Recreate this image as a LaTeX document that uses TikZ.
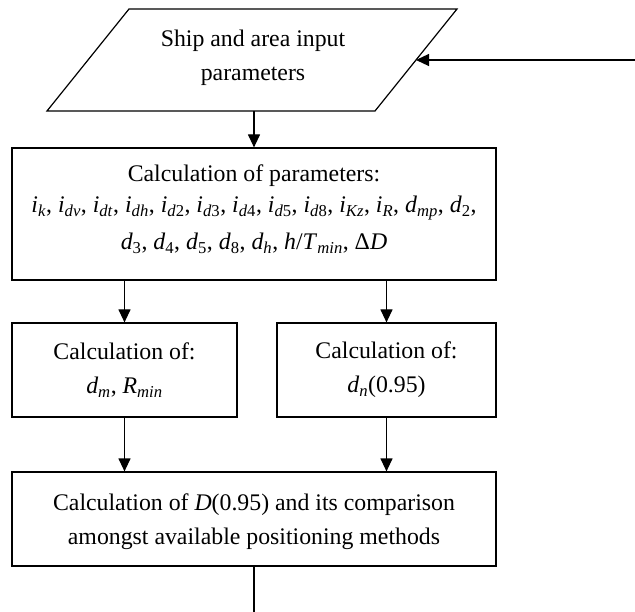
\documentclass[tikz,border=0pt]{standalone}
\usepackage{fontspec}
\setmainfont{Liberation Serif}
\usetikzlibrary{arrows.meta}
\newcommand\vr[2]{\textit{#1}\textsubscript{#2}}
\begin{document}
\begin{tikzpicture}[x=1pt,y=-1pt,line width=1.2pt,
  >={Triangle[length=13pt,width=12pt]},
  txt/.style={align=center,font=\fontsize{23.8}{34}\selectfont,inner sep=0pt},
  boxn/.style={draw,inner sep=0pt,minimum height=#1},
  boxn/.default=94pt]
\useasboundingbox (0,0) rectangle (635,612);
% input parallelogram
\draw (129,9) -- (457,9) -- (375,111) -- (47,111) -- cycle;
\node[txt] (par) at (253,58) {Ship and area input\\parameters};
\coordinate (parS) at (254,111);
\coordinate (ext) at (635,60);
\coordinate (parE) at (416,60);
% boxes
\node[boxn=132pt,minimum width=484pt] (calc) at (254,214) {};
\node[txt] (calcT) at (254,209)
  {Calculation of parameters:\\[-3pt]
   \vr{i}{\textit{k}}, \vr{i}{\textit{dv}}, \vr{i}{\textit{dt}}, \vr{i}{\textit{dh}}, \vr{i}{\textit{d}2}, \vr{i}{\textit{d}3}, \vr{i}{\textit{d}4}, \vr{i}{\textit{d}5}, \vr{i}{\textit{d}8}, \vr{i}{\textit{Kz}}, \vr{i}{\textit{R}}, \vr{d}{\textit{mp}}, \vr{d}{2},\\[3pt]
   \vr{d}{3}, \vr{d}{4}, \vr{d}{5}, \vr{d}{8}, \vr{d}{\textit{h}}, \textit{h}/\vr{T}{\textit{min}}, Δ\textit{D}};
\node[boxn,minimum width=225pt] (dm) at (124.5,370) {};
\node[txt] (dmT) at (124.5,370)
  {Calculation of:\\\vr{d}{\textit{m}}, \vr{R}{\textit{min}}};
\node[boxn,minimum width=219pt] (dn) at (386.5,370) {};
\node[txt] (dnT) at (386.5,370)
  {Calculation of:\\\vr{d}{\textit{n}}(0.95)};
\node[boxn,minimum width=484pt] (res) at (254,519) {};
\node[txt] (resT) at (254,522)
  {Calculation of \textit{D}(0.95) and its comparison\\amongst available positioning methods};
\coordinate (out) at (254,612);
% connectors
\draw[->] (ext) -- (parE);
\draw[->] (parS) -- (calc.north);
\draw[->] (calc.south -| dm.north) -- (dm.north);
\draw[->] (calc.south -| dn.north) -- (dn.north);
\draw[->] (dm.south) -- (res.north -| dm.south);
\draw[->] (dn.south) -- (res.north -| dn.south);
\draw (res.south) -- (out);
\end{tikzpicture}
\end{document}
